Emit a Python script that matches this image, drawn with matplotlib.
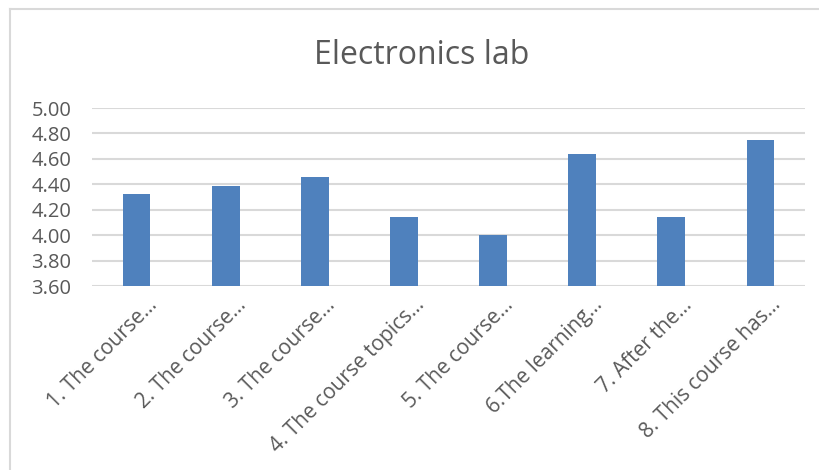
import matplotlib
matplotlib.use("Agg")
import matplotlib.pyplot as plt
from matplotlib.lines import Line2D
from matplotlib.transforms import ScaledTranslation

categories = ["1. The course…", "2. The course…", "3. The course…",
              "4. The course topics…", "5. The course…", "6.The learning…",
              "7. After the…", "8. This course has…"]
values = [4.32, 4.39, 4.46, 4.14, 4.00, 4.64, 4.14, 4.75]
yticks = [3.60, 3.80, 4.00, 4.20, 4.40, 4.60, 4.80, 5.00]

plt.rcParams['font.family'] = ['Open Sans', 'DejaVu Sans']
txt = '#595959'

fig = plt.figure(figsize=(8.2, 4.7), dpi=100)
ax = fig.add_axes([92/820, (470-286)/470, (805-92)/820, (286-108)/470])

x = range(len(categories))
ax.bar(x, values, width=0.31, color='#4f81bd', zorder=3)
ax.set_ylim(3.6, 5.0)
ax.set_xlim(-0.5, len(categories)-0.5)
ax.set_yticks(yticks)
ax.set_yticklabels([f"{v:.2f}" for v in yticks], color=txt, fontsize=14.5)
ax.set_xticks(list(x))
ax.set_xticklabels(categories, rotation=45, ha='right', va='top',
                   rotation_mode='anchor', color=txt, fontsize=15)
ax.tick_params(axis='y', length=0, pad=15)
ax.tick_params(axis='x', length=0, pad=6)
off = ScaledTranslation(10/100, 0, fig.dpi_scale_trans)
for lab in ax.get_xticklabels():
    lab.set_transform(lab.get_transform() + off)
ax.grid(axis='y', color='#d9d9d9', lw=1.5, zorder=0)
for s in ax.spines.values():
    s.set_visible(False)

fig.text(422/820, 1-55/470, "Electronics lab", ha='center', va='center',
         fontsize=23, color=txt)

fig.add_artist(Line2D([10/820, 10/820], [0, 1-9/470], transform=fig.transFigure,
                      color='#d9d9d9', lw=1.5))
fig.add_artist(Line2D([10/820, 1], [1-9/470, 1-9/470], transform=fig.transFigure,
                      color='#d9d9d9', lw=1.5))

fig.savefig("out.png", dpi=100)
